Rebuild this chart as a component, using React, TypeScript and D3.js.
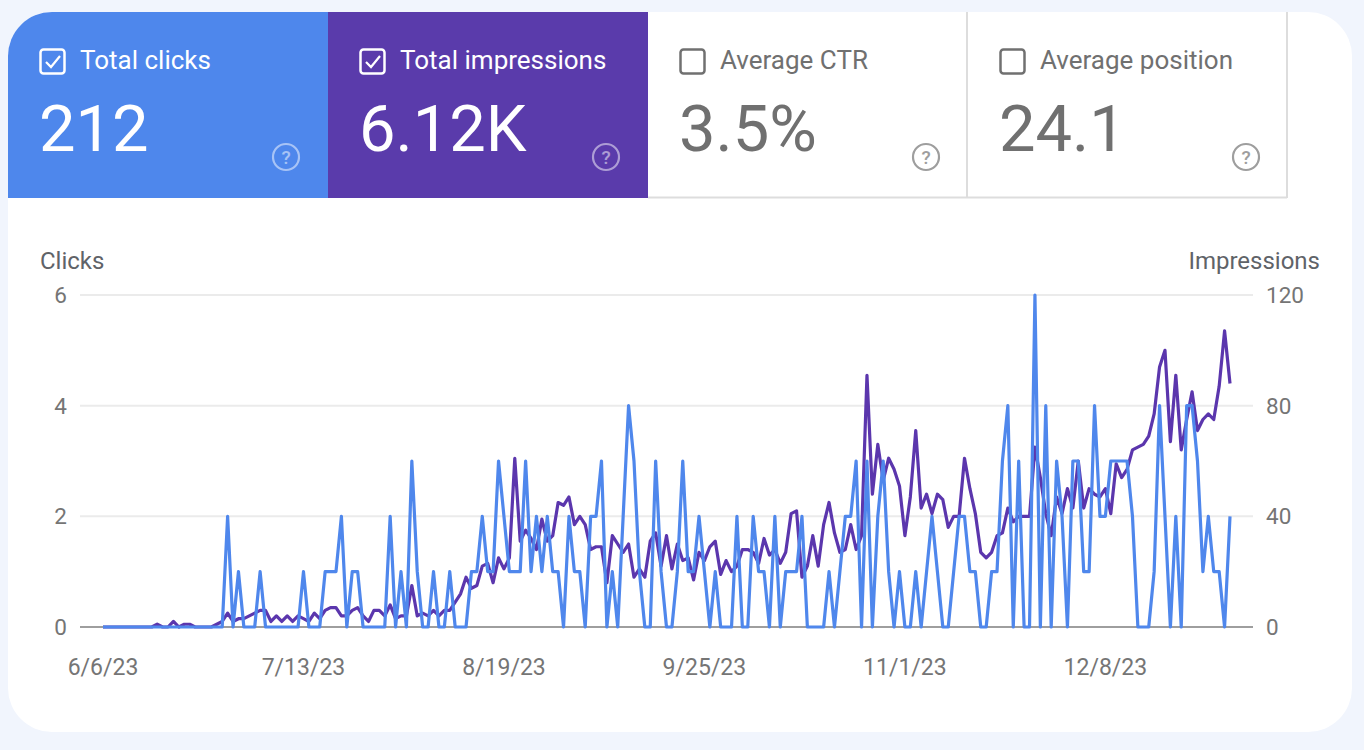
import React from "react";
import * as d3 from "d3";

const startDate = "2023-06-06";
const xTickLabels = ["6/6/23", "7/13/23", "8/19/23", "9/25/23", "11/1/23", "12/8/23"];
const leftTicks = [0, 2, 4, 6];
const rightTicks = [0, 40, 80, 120];

const clicks = [
  0,0,0,0,0,0,0,0,0,0,
  0,0,0,0,0,0,0,0,0,0,
  0,0,0,2,0,1,0,0,0,1,
  0,0,0,0,0,0,0,1,0,0,
  0,1,1,1,2,0,1,1,0,0,
  0,0,0,2,0,1,0,3,1,0,
  0,1,0,0,1,0,0,0,1,1,
  2,1,1,3,2,1,1,1,3,1,
  2,1,2,1,1,0,2,1,1,0,
  2,2,3,0,1,0,2,4,3,1,
  0,0,3,1,0,0,1,3,1,1,
  2,1,0,1,0,0,0,2,0,0,
  2,1,1,0,2,0,1,1,1,2,
  0,0,0,0,1,0,1,2,2,3,
  0,3,0,2,3,1,0,1,0,0,
  1,0,1,2,1,0,0,1,2,2,
  1,1,0,0,1,1,3,4,0,3,
  0,0,6,0,4,0,3,2,0,3,
  3,1,1,4,2,2,3,3,3,3,
  2,0,0,0,1,4,2,0,2,0,
  4,4,3,1,2,1,1,0,2,
];

const impressions = [
  0,0,0,0,0,0,0,0,0,0,
  1,0,0,2,0,1,1,0,0,0,
  0,1,2,5,2,3,3,4,5,6,
  6,2,4,2,4,2,4,3,2,5,
  3,6,7,7,4,4,6,7,4,2,
  6,6,4,8,3,4,4,15,4,5,
  4,6,4,6,6,9,12,18,14,15,
  22,23,16,25,21,25,61,31,35,32,
  28,39,31,33,45,44,47,37,40,37,
  28,29,29,16,33,30,27,30,18,21,
  18,31,34,22,33,21,30,24,25,17,
  27,24,29,31,19,24,20,22,28,28,
  27,23,32,26,28,23,27,41,42,18,
  22,33,22,37,45,34,27,28,37,28,
  33,91,48,66,53,61,57,51,33,47,
  71,43,48,41,48,46,36,40,40,61,
  50,41,27,25,27,33,34,43,38,40,
  40,40,65,54,41,33,47,41,50,43,
  60,43,50,48,47,50,41,59,54,57,
  64,65,66,69,77,94,100,67,91,64,
  75,85,71,75,77,75,87,107,88,
];

const tileLabels = ["Total clicks", "Total impressions", "Average CTR", "Average position"];
const tileValues = ["212", "6.12K", "3.5%", "24.1"];
const tileChecked = [true, true, false, false];
const tileFills = ["#4e87ec", "#5a3bab", "#ffffff", "#ffffff"];

const BLUE = "#4f87ec";
const PURPLE = "#5b36ad";
const FONT = "Roboto, 'Noto Sans', sans-serif";

export default function App() {
  const W = 1364, H = 750;
  const parse = d3.utcParse("%Y-%m-%d");
  const start = parse(startDate) as Date;
  const dates = clicks.map((_, i) => d3.utcDay.offset(start, i));
  const tickParse = d3.utcParse("%m/%d/%y");
  const tickDates = xTickLabels.map((s) => tickParse(s) as Date);

  const x = d3.scaleUtc().domain([dates[0], dates[dates.length - 1]]).range([103, 1230]);
  const yL = d3.scaleLinear().domain([0, 6]).range([627, 295]);
  const yR = d3.scaleLinear().domain([0, 120]).range([627, 295]);

  const lineC = d3.line<number>().x((_, i) => x(dates[i])).y((d) => yL(d));
  const lineI = d3.line<number>().x((_, i) => x(dates[i])).y((d) => yR(d));

  const tileX0 = 8, tileW = 320, tileY = 12, tileH = 186;

  return (
    <div style={{ position: "absolute", left: 0, top: 0, width: W, height: H }}>
      <svg width={W} height={H} style={{ display: "block" }}>
        <defs>
          <clipPath id="cardClip">
            <rect x={8} y={12} width={1344} height={720} rx={44} ry={44} />
          </clipPath>
        </defs>
        <rect x={0} y={0} width={W} height={H} fill="#f1f5fd" />
        <rect x={8} y={12} width={1344} height={720} rx={44} ry={44} fill="#ffffff" />
        <g clipPath="url(#cardClip)">
          {tileLabels.map((lab, i) => {
            const tx = tileX0 + i * tileW;
            const white = !tileChecked[i];
            const fg = white ? "#707070" : "#ffffff";
            const help = white ? "#9e9e9e" : "rgba(255,255,255,0.5)";
            return (
              <g key={lab}>
                <rect x={tx} y={tileY} width={tileW} height={tileH} fill={tileFills[i]} />
                <rect x={tx + 32.5} y={49.5} width={24} height={24} rx={3} fill="none" stroke={fg} strokeWidth={2.5} />
                {tileChecked[i] && (
                  <path d={`M${tx + 38},${62} L${tx + 43},${67} L${tx + 52},${56}`} fill="none" stroke={fg} strokeWidth={2.2} />
                )}
                <text x={tx + 72} y={69} fontFamily={FONT} fontSize={26} fill={fg}>{lab}</text>
                <text x={tx + 31} y={151} fontFamily={FONT} fontSize={65} fill={fg}>{tileValues[i]}</text>
                <circle cx={tx + 278} cy={157} r={13} fill="none" stroke={help} strokeWidth={2.2} />
                <text x={tx + 278} y={164} textAnchor="middle" fontFamily={FONT} fontSize={19} fontWeight={500} fill={help}>?</text>
              </g>
            );
          })}
          <line x1={648} x2={1287} y1={197.5} y2={197.5} stroke="#dddddd" strokeWidth={2} />
          <line x1={967} x2={967} y1={12} y2={198} stroke="#dddddd" strokeWidth={2} />
          <line x1={1287} x2={1287} y1={12} y2={198} stroke="#dddddd" strokeWidth={2} />
        </g>

        <text x={40} y={269} fontFamily={FONT} fontSize={24} fill="#5f6368">Clicks</text>
        <text x={1320} y={269} textAnchor="end" fontFamily={FONT} fontSize={24} fill="#5f6368">Impressions</text>

        {leftTicks.map((t) => (
          <g key={"l" + t}>
            {t !== 0 && <line x1={80} x2={1253} y1={yL(t)} y2={yL(t)} stroke="#ebebeb" strokeWidth={2} />}
            <text x={67} y={yL(t) + 8} textAnchor="end" fontFamily={FONT} fontSize={22.5} fill="#757575">{t}</text>
          </g>
        ))}
        {rightTicks.map((t) => (
          <text key={"r" + t} x={1266} y={yR(t) + 8} fontFamily={FONT} fontSize={22.5} fill="#757575">{t}</text>
        ))}
        <line x1={80} x2={1253} y1={yL(0)} y2={yL(0)} stroke="#9e9e9e" strokeWidth={2} />

        {tickDates.map((d, i) => (
          <text key={xTickLabels[i]} x={x(d)} y={675} textAnchor="middle" fontFamily={FONT} fontSize={23} fill="#757575">{xTickLabels[i]}</text>
        ))}

        <path d={lineI(impressions) || ""} fill="none" stroke={PURPLE} strokeWidth={3.2} strokeLinejoin="round" />
        <path d={lineC(clicks) || ""} fill="none" stroke={BLUE} strokeWidth={3.2} strokeLinejoin="round" />
      </svg>
    </div>
  );
}
